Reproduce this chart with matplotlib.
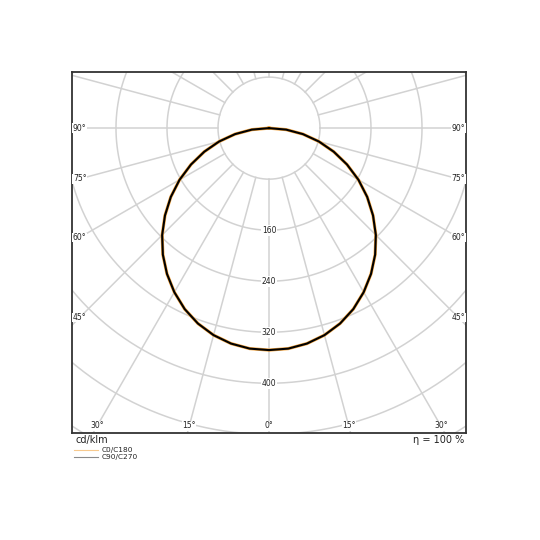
import numpy as np
import matplotlib.pyplot as plt
from matplotlib.lines import Line2D

# luminous intensity, cd/klm, gamma measured from nadir
gamma = [0, 5, 10, 15, 20, 25, 30, 35, 40, 45, 50, 55, 60, 65, 70, 75, 80, 85, 90]
c0_c180 = [348, 347, 343, 336, 326, 313, 297, 279, 259, 237, 213, 188, 162,
           135, 108, 81, 54, 27, 0]
c90_c270 = [348, 347, 343, 336, 326, 313, 297, 279, 259, 237, 213, 188, 162,
            135, 108, 81, 54, 27, 0]

ring_values = [80, 160, 240, 320, 400, 480, 560]
ring_labels = [160, 240, 320, 400]
side_angles = [90, 75, 60, 45]
bottom_angles = [0, 15, 30]
efficiency = 100
unit = "cd/klm"

GRID = "#d2d2d2"
XMAX, YTOP, YBOT = 309., 88., -478.


def to_xy(g, r):
    g = np.radians(np.asarray(g, dtype=float))
    r = np.asarray(r, dtype=float)
    return r * np.sin(g), -r * np.cos(g)


fig = plt.figure(figsize=(5.4, 5.4), dpi=100)
ax = fig.add_axes([72 / 540, 1 - 433 / 540, 394 / 540, 361 / 540])
ax.set_xlim(-XMAX, XMAX)
ax.set_ylim(YBOT, YTOP)
ax.set_xticks([])
ax.set_yticks([])
for s in ax.spines.values():
    s.set_color("#333333")
    s.set_linewidth(1.3)

# grid: rings and radial spokes
t = np.linspace(0, 2 * np.pi, 400)
for r in ring_values:
    ax.plot(r * np.cos(t), r * np.sin(t), color=GRID, lw=1.1, zorder=1)
for g in range(0, 360, 15):
    x, y = to_xy([g, g], [ring_values[0], 800])
    ax.plot(x, y, color=GRID, lw=1.1, zorder=1)

# ring value labels along nadir
for v in ring_labels:
    ax.text(0, -v, str(v), ha="center", va="center", fontsize=5.5,
            color="#222222", zorder=4,
            bbox=dict(facecolor="white", edgecolor="none", pad=0.6))

# angle labels at the frame edges
for g in side_angles:
    xe = XMAX - 12
    ye = -xe / np.tan(np.radians(g))
    for sgn in (-1, 1):
        ax.text(sgn * xe, ye, f"{g}°", ha="center", va="center",
                fontsize=5.5, color="#222222", zorder=4,
                bbox=dict(facecolor="white", edgecolor="none", pad=0.3))
for g in bottom_angles:
    ye = YBOT + 11
    xe = -ye * np.tan(np.radians(g))
    for sgn in ((1,) if g == 0 else (-1, 1)):
        ax.text(sgn * xe, ye, f"{g}°", ha="center", va="center",
                fontsize=5.5, color="#222222", zorder=4,
                bbox=dict(facecolor="white", edgecolor="none", pad=0.3))

# curves (C0 right / C180 left, same for C90/C270)
g_full = [-g for g in gamma[::-1]] + gamma[1:]
x0, y0 = to_xy(g_full, c0_c180[::-1] + c0_c180[1:])
x9, y9 = to_xy(g_full, c90_c270[::-1] + c90_c270[1:])
ax.plot(x0, y0, color="#f5a640", lw=2.3, zorder=3, solid_joinstyle="round")
ax.plot(x9, y9, color="black", lw=1.5, zorder=3, solid_joinstyle="round")

fig.text(76 / 540, 1 - 440 / 540, unit, ha="left", va="center",
         fontsize=7, color="#222222")
fig.text(464 / 540, 1 - 440 / 540, f"η = {efficiency} %", ha="right",
         va="center", fontsize=7, color="#222222")

handles = [Line2D([], [], color="#f7c98e", lw=0.8),
           Line2D([], [], color="#8a8a8a", lw=0.8)]
fig.legend(handles, ["C0/C180", "C90/C270"], loc="upper left",
           bbox_to_anchor=(74 / 540, 1 - 447 / 540), frameon=False,
           fontsize=5.3, borderpad=0, borderaxespad=0, labelspacing=0.15,
           handlelength=3.2, handletextpad=0.5, labelcolor="#222222")

fig.savefig("out.png", dpi=100, facecolor="white")
